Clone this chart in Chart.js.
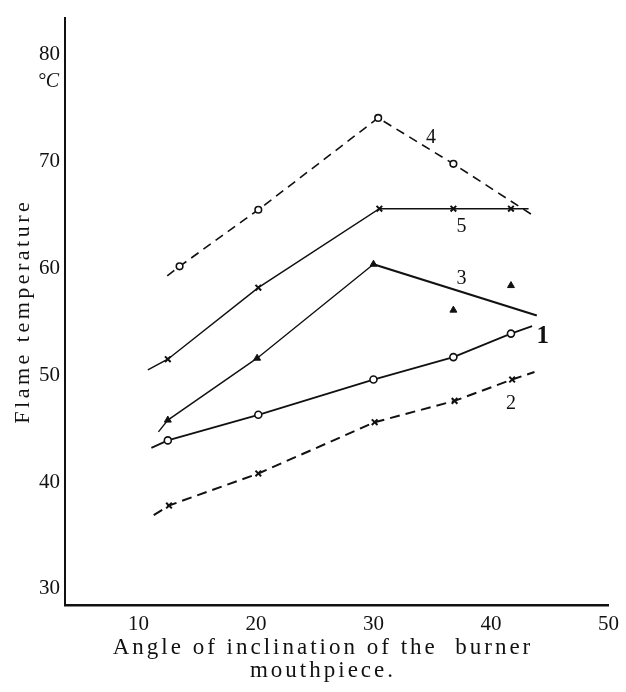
<!DOCTYPE html>
<html>
<head>
<meta charset="utf-8">
<script src="https://cdn.jsdelivr.net/npm/chart.js@4.4.1/dist/chart.umd.min.js"></script>
<style>
  html, body { margin: 0; padding: 0; background: #fff; }
  #wrap { width: 626px; height: 692px; }
</style>
</head>
<body>
<div id="wrap"><canvas id="graficFlame"></canvas></div>
<script>
const xTicks = [10, 20, 30, 40, 50];
const yTicks = [30, 40, 50, 60, 70, 80];

// curve 1 : solid line, open circles (first and last value are the line ends)
const angles1 = [11.1, 12.5, 20.2, 30.0, 36.8, 41.7, 43.5];
const temps1 = [43.2, 43.9, 46.3, 49.6, 51.7, 53.9, 54.6];
// curve 2 : dashed line, crosses
const angles2 = [11.3, 12.6, 20.2, 30.1, 36.9, 41.8, 43.7];
const temps2 = [36.9, 37.8, 40.8, 45.6, 47.6, 49.6, 50.3];
// curve 3 : solid line, triangles
const angles3 = [11.7, 12.5, 20.1, 30.0, 43.9];
const temps3 = [44.7, 45.8, 51.6, 60.4, 55.6];
// curve 3 : loose triangles off the line
const angles3b = [36.8, 41.7];
const temps3b = [56.1, 58.4];
// curve 4 : dashed line, open circles
const angles4 = [12.45, 13.5, 20.2, 30.4, 36.8, 43.4];
const temps4 = [59.3, 60.2, 65.5, 74.1, 69.8, 65.1];
// curve 5 : solid line, crosses
const angles5 = [10.8, 12.5, 20.2, 30.5, 36.8, 41.7, 43.2];
const temps5 = [50.5, 51.5, 58.2, 65.6, 65.6, 65.6, 65.6];

// curve numbers written next to the lines
const curveNames = ["1", "2", "3", "4", "5"];
const nameAngles = [44.4, 41.7, 37.5, 34.9, 37.5];
const nameTemps = [53.6, 47.3, 59.0, 72.2, 63.9];

const ink = "#111";
const serif = '"Liberation Serif", "DejaVu Serif", serif';

const toPoints = (xs, ys) => xs.map((x, i) => ({ x: x, y: ys[i] }));
const endsHidden = (r) => (ctx) => {
  const last = ctx.dataset.data.length - 1;
  return ctx.dataIndex === 0 || ctx.dataIndex === last ? 0 : r;
};

const textPlugin = {
  id: "texts",
  afterDraw(chart) {
    const ctx = chart.ctx;
    const xs = chart.scales.x;
    const ys = chart.scales.y;
    ctx.save();
    ctx.fillStyle = ink;
    ctx.textBaseline = "middle";

    // curve numbers
    ctx.textAlign = "center";
    curveNames.forEach((name, i) => {
      ctx.font = name === "1" ? "bold 25px " + serif : "20px " + serif;
      ctx.fillText(name, xs.getPixelForValue(nameAngles[i]), ys.getPixelForValue(nameTemps[i]));
    });

    // unit under the top tick
    ctx.textAlign = "right";
    ctx.font = "italic 20px " + serif;
    ctx.fillText("°C", xs.left - 6, ys.getPixelForValue(80) + 27);

    // axis titles with the wide spacing of the print
    ctx.textAlign = "center";
    ctx.font = "23px " + serif;
    ctx.letterSpacing = "3px";
    ctx.fillText("Angle of inclination of the  burner", 323, 648);
    ctx.fillText("mouthpiece.", 323, 671);

    ctx.font = "22px " + serif;
    ctx.letterSpacing = "3.5px";
    ctx.translate(23, (ys.top + ys.bottom) / 2);
    ctx.rotate(-Math.PI / 2);
    ctx.fillText("Flame temperature", 0, 0);
    ctx.restore();
  }
};

const graficFlame = document.querySelector("#graficFlame");
// eslint-disable-next-line no-undef
new Chart(graficFlame, {
  type: "scatter",
  data: {
    datasets: [
      {
        data: toPoints(angles1, temps1),
        showLine: true,
        borderColor: ink,
        borderWidth: 1.8,
        pointStyle: "circle",
        pointRadius: endsHidden(3.5),
        pointBorderWidth: 1.6,
        pointBorderColor: ink,
        pointBackgroundColor: "#fff"
      },
      {
        data: toPoints(angles2, temps2),
        showLine: true,
        borderColor: ink,
        borderWidth: 2,
        borderDash: [10, 6],
        pointStyle: "crossRot",
        pointRadius: endsHidden(4),
        pointBorderWidth: 2,
        pointBorderColor: ink
      },
      {
        data: toPoints(angles3, temps3),
        showLine: true,
        borderColor: ink,
        borderWidth: 1.4,
        segment: {
          borderWidth: (ctx) => (ctx.p0DataIndex >= 3 ? 2.2 : 1.4)
        },
        pointStyle: "triangle",
        pointRadius: endsHidden(4),
        pointBorderWidth: 1,
        pointBorderColor: ink,
        pointBackgroundColor: ink
      },
      {
        data: toPoints(angles3b, temps3b),
        showLine: false,
        pointStyle: "triangle",
        pointRadius: 4,
        pointBorderWidth: 1,
        pointBorderColor: ink,
        pointBackgroundColor: ink
      },
      {
        data: toPoints(angles4, temps4),
        showLine: true,
        borderColor: ink,
        borderWidth: 1.6,
        borderDash: [9, 6],
        pointStyle: "circle",
        pointRadius: endsHidden(3.3),
        pointBorderWidth: 1.6,
        pointBorderColor: ink,
        pointBackgroundColor: "#fff"
      },
      {
        data: toPoints(angles5, temps5),
        showLine: true,
        borderColor: ink,
        borderWidth: 1.5,
        pointStyle: "crossRot",
        pointRadius: endsHidden(4),
        pointBorderWidth: 2,
        pointBorderColor: ink
      }
    ]
  },
  options: {
    responsive: true,
    maintainAspectRatio: false,
    animation: false,
    layout: { padding: { left: 34, top: 10, right: 12, bottom: 48 } },
    plugins: {
      legend: { display: false },
      tooltip: { enabled: false }
    },
    elements: { line: { tension: 0 } },
    scales: {
      x: {
        type: "linear",
        min: 3.75,
        max: 50,
        afterBuildTicks: (scale) => { scale.ticks = xTicks.map((v) => ({ value: v })); },
        grid: { display: false, drawTicks: false },
        border: { display: true, color: ink, width: 2.5 },
        ticks: { color: ink, padding: 7, font: { family: serif, size: 21 }, maxRotation: 0 }
      },
      y: {
        type: "linear",
        min: 28.5,
        max: 83.5,
        afterBuildTicks: (scale) => { scale.ticks = yTicks.map((v) => ({ value: v })); },
        grid: { display: false, drawTicks: false },
        border: { display: true, color: ink, width: 2 },
        ticks: { color: ink, padding: 5, font: { family: serif, size: 21 } }
      }
    }
  },
  plugins: [textPlugin]
});
</script>
</body>
</html>
